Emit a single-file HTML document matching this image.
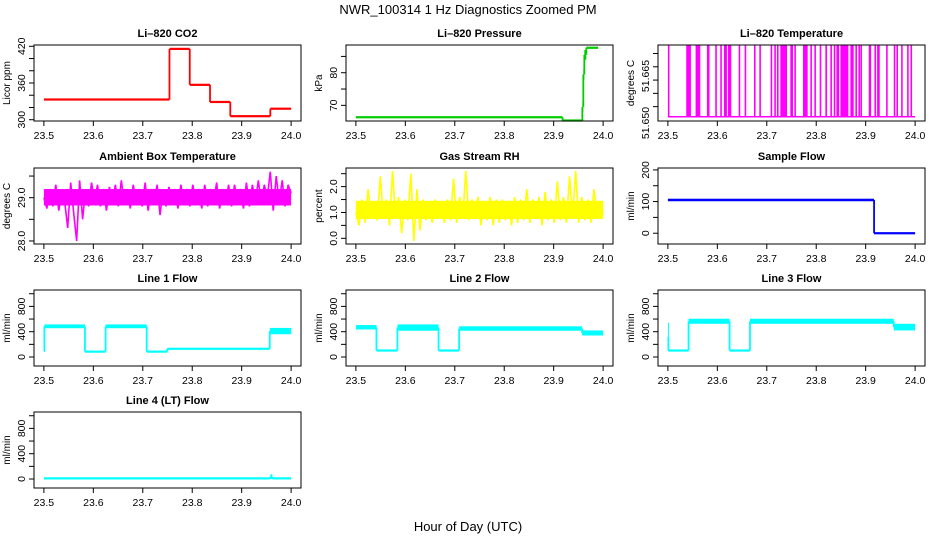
<!DOCTYPE html>
<html><head><meta charset="utf-8"><style>
html,body{margin:0;padding:0;background:#fff}
svg{display:block;font-family:"Liberation Sans",Arial,sans-serif}
</style></head><body>
<svg id="chart" width="936" height="540" viewBox="0 0 936 540" xmlns="http://www.w3.org/2000/svg">
<text x="468" y="14" text-anchor="middle" font-size="13">NWR_100314  1 Hz Diagnostics Zoomed PM</text>
<text x="468" y="531" text-anchor="middle" font-size="13">Hour of Day (UTC)</text>
</svg>
<script>
// ---- data ----
const xTicks = [23.5, 23.6, 23.7, 23.8, 23.9, 24.0];
const xTickLabels = ["23.5","23.6","23.7","23.8","23.9","24.0"];
const co2Times = [23.5, 23.754, 23.795, 23.836, 23.877, 23.958, 24.0];
const co2Low = [331.5, 414, 355.5, 327.5, 304, 316.5];
const co2High = [334.5, 417.5, 358.5, 330.5, 307.5, 319.5];
const pressTimes = [23.5, 23.918, 23.958, 23.96, 23.962, 23.966, 23.99];
const pressLow = [66.1, 65.2, 68, 78, 84, 87.4];
const pressHigh = [66.6, 65.5, 71, 81, 87, 87.9];
const tempHighStart = [23.5,23.5371,23.556,23.579,23.5958,23.6059,23.6134,23.6215,23.6431,23.6552,23.6741,23.6849,23.7078,23.7152,23.7206,23.7274,23.7476,23.7557,23.7733,23.7881,23.7962,23.807,23.8185,23.8286,23.8354,23.8408,23.8489,23.8691,23.8792,23.8853,23.8893,23.9062,23.9177,23.9231,23.9413,23.9568,23.9622,23.9717,23.9838,23.9906];
const tempHighEnd = [23.5027,23.5466,23.5655,23.5843,23.5975,23.6073,23.6194,23.6282,23.6444,23.6579,23.6768,23.6862,23.7092,23.7166,23.722,23.7409,23.753,23.7571,23.7827,23.7895,23.7976,23.8084,23.8219,23.83,23.8367,23.8462,23.865,23.8758,23.8812,23.8866,23.8907,23.911,23.9191,23.9285,23.9426,23.9582,23.9636,23.973,23.9852,23.9919];
const tempLowValue = 51.6462;
const tempHighValue = 51.673;
const ambientBand = [28.82, 29.2];
const ambientValues = [29.0,28.75,29.2,28.8,29.3,28.7,29.1,28.9,28.3,29.35,28.65,28.0,29.4,28.5,29.2,28.8,29.35,28.9,29.3,28.8,29.2,28.7,29.25,28.9,29.3,28.8,29.4,28.85,29.2,28.75,29.3,28.9,29.2,28.8,29.35,28.7,29.2,28.85,29.3,28.6,29.2,28.8,29.25,28.9,29.2,28.75,29.3,28.85,29.2,28.8,29.3,28.9,29.2,28.75,29.3,28.8,29.2,28.9,29.35,28.75,29.2,28.85,29.3,28.8,29.3,28.9,29.2,28.75,29.35,28.8,29.3,28.9,29.4,28.85,29.3,29.0,29.6,28.7,29.5,28.9,29.4,28.8,29.3,29.1];
const rhBand = [0.75, 1.45];
const rhValues = [1.0,0.5,1.5,0.6,1.9,0.8,1.4,0.7,2.4,0.9,1.5,0.5,2.6,0.8,1.6,0.2,1.5,0.7,2.5,-0.1,1.9,0.3,1.5,0.7,1.4,0.6,1.5,0.8,1.4,0.6,1.5,0.7,2.3,0.6,1.6,0.8,2.6,0.7,1.5,0.8,1.6,0.5,1.4,0.7,1.6,0.5,1.5,0.6,1.5,0.7,1.4,0.5,1.6,0.6,1.5,0.7,1.9,0.6,1.5,0.8,1.6,0.5,1.8,0.7,1.5,0.6,2.2,0.7,1.6,0.6,2.4,0.8,2.6,0.6,1.6,0.7,1.5,0.6,1.9,0.8,1.4,1.0];
const sampleTimes = [23.5, 23.917, 24.0];
const sampleLow = [101, -2];
const sampleHigh = [109, 2];
const line1Times = [23.5, 23.501, 23.583, 23.6248, 23.708, 23.7496, 23.9568, 24.0];
const line1Low = [85, 455, 75, 455, 75, 120, 360];
const line1High = [105, 515, 95, 515, 95, 140, 460];
const line2Times = [23.5, 23.5416, 23.584, 23.6672, 23.7088, 23.9576, 24.0];
const line2Low = [435, 90, 415, 90, 415, 340];
const line2High = [505, 115, 515, 115, 485, 420];
const line3Times = [23.5, 23.501, 23.5418, 23.6248, 23.666, 23.9568, 24.0];
const line3Low = [95, 95, 525, 95, 525, 420];
const line3High = [545, 110, 605, 110, 605, 525];
const line4Times = [23.5, 23.958, 23.962, 24.0];
const line4Low = [0, 0, 0];
const line4High = [20, 75, 20];

const NS = "http://www.w3.org/2000/svg";
const svg = document.getElementById("chart");
function mk(tag, attrs, parent){
  const e = document.createElementNS(NS, tag);
  for (const k in attrs) e.setAttribute(k, attrs[k]);
  (parent||svg).appendChild(e);
  return e;
}
const colLeft = [34, 346, 658];
const rowTop = [45, 168, 290, 412];
const W = 267, H = 76;

function panel(name, title, col, row, ylim, yTicks, yLabels, ylab){
  const L = colLeft[col], T = rowTop[row];
  const g = mk("g", {});
  
  
  const xs = v => L + (v - 23.48) / 0.54 * W;
  const ys = v => T + (ylim[1] - v) / (ylim[1] - ylim[0]) * H;
  const t = mk("text", {x: L + W/2, y: T - 8, "text-anchor": "middle", "font-size": "11", "font-weight": "bold"}, g);
  t.textContent = title;
  
  
  xTicks.forEach((v, i) => {
    mk("line", {x1: xs(v), x2: xs(v), y1: T + H, y2: T + H + 5, stroke: "#000"}, g);
    const tl = mk("text", {x: xs(v), y: T + H + 18, "text-anchor": "middle", "font-size": "10.5"}, g);
    tl.textContent = xTickLabels[i];
    
    
  });
  yTicks.forEach(v => mk("line", {x1: L - 5, x2: L, y1: ys(v), y2: ys(v), stroke: "#000"}, g));
  yLabels.forEach(lb => {
    const yy = lb[2] !== undefined ? lb[2] : ys(lb[0]);
    const tl = mk("text", {x: L - 9, y: yy, "text-anchor": "middle", "font-size": "10.5", transform: `rotate(-90 ${L-9} ${yy})`}, g);
    tl.textContent = lb[1];
    
    
  });
  const yt = mk("text", {x: L - 24, y: T + H/2, "text-anchor": "middle", "font-size": "10", transform: `rotate(-90 ${L-24} ${T+H/2})`}, g);
  yt.textContent = ylab;
  
  
  const clip = mk("g", {}, g);
  mk("rect", {x: L, y: T, width: W, height: H, fill: "none", stroke: "#000", "stroke-width": 1}, g);
  return {g: clip, xs, ys};
}

function stepSeries(p, name, times, lows, highs, color){
  for (let i = 0; i < lows.length; i++){
    const x1 = p.xs(times[i]), x2 = p.xs(times[i+1]);
    let y1 = p.ys(highs[i]), y2 = p.ys(lows[i]);
    if (y2 - y1 < 2.2){ const m = (y1 + y2) / 2; y1 = m - 1.1; y2 = m + 1.1; }
    const r = mk("rect", {x: x1, y: y1, width: Math.max(x2 - x1, 1), height: y2 - y1, fill: color}, p.g);
    
    
    if (i > 0){
      const a = p.ys((lows[i-1] + highs[i-1]) / 2), b = p.ys((lows[i] + highs[i]) / 2);
      mk("line", {x1: x1, x2: x1, y1: a, y2: b, stroke: color, "stroke-width": 1.8}, p.g);
    }
  }
}
function noisySeries(p, name, band, values, color){
  const b = mk("rect", {x: p.xs(23.5), y: p.ys(band[1]), width: p.xs(24.0) - p.xs(23.5), height: p.ys(band[0]) - p.ys(band[1]), fill: color}, p.g);
  
  
  const n = values.length;
  const pts = values.map((v, i) => p.xs(23.5 + i * 0.5 / (n - 1)) + "," + p.ys(v)).join(" ");
  const pl = mk("polyline", {points: pts, fill: "none", stroke: color, "stroke-width": 1.6}, p.g);
  
  
}

let p = panel("co2", "Li\u2013820 CO2", 0, 0, [297.9, 422.1], [300,320,340,360,380,400,420], [[300,"300"],[360,"360"],[420,"420"]], "Licor ppm");
stepSeries(p, "co2", co2Times, co2Low, co2High, "#ff0000");
p = panel("pressure", "Li\u2013820 Pressure", 1, 0, [65.2, 88.5], [70,75,80,85], [[70,"70"],[80,"80"]], "kPa");
stepSeries(p, "pressure", pressTimes, pressLow, pressHigh, "#00cc00");
p = panel("li820-temp", "Li\u2013820 Temperature", 2, 0, [51.6446, 51.6732], [51.650,51.655,51.660,51.665,51.670], [[51.650,"51.650",123],[51.665,"51.665",76]], "degrees C");
{
  const yl = p.ys(tempLowValue), yh = p.ys(tempHighValue);
  mk("line", {x1: p.xs(23.5), x2: p.xs(24.0), y1: yl, y2: yl, stroke: "#ff00ff", "stroke-width": 1.5}, p.g);
  tempHighStart.forEach((s, i) => {
    const r = mk("rect", {x: p.xs(s), y: yh, width: Math.max(p.xs(tempHighEnd[i]) - p.xs(s), 1.6), height: yl - yh, fill: "#ff00ff"}, p.g);
    
    
  });
}
p = panel("ambient-temp", "Ambient Box Temperature", 0, 1, [27.93, 29.686], [28.0,28.5,29.0,29.5], [[28.0,"28.0"],[29.0,"29.0"]], "degrees C");
noisySeries(p, "ambient-temp", ambientBand, ambientValues, "#ff00ff");
p = panel("gas-rh", "Gas Stream RH", 1, 1, [-0.22, 2.72], [0,0.5,1,1.5,2,2.5], [[0,"0.0"],[1,"1.0"],[2,"2.0"]], "percent");
noisySeries(p, "gas-rh", rhBand, rhValues, "#ffff00");
p = panel("sample-flow", "Sample Flow", 2, 1, [-34, 206], [0,50,100,150,200], [[0,"0"],[100,"100"],[200,"200"]], "ml/min");
stepSeries(p, "sample-flow", sampleTimes, sampleLow, sampleHigh, "#0000ff");
const flowTicks = [0,200,400,600,800,1000];
const flowLabels = [[0,"0"],[400,"400"],[800,"800"]];
p = panel("line1", "Line 1 Flow", 0, 2, [-142, 1059], flowTicks, flowLabels, "ml/min");
stepSeries(p, "line1", line1Times, line1Low, line1High, "#00ffff");
p = panel("line2", "Line 2 Flow", 1, 2, [-142, 1059], flowTicks, flowLabels, "ml/min");
stepSeries(p, "line2", line2Times, line2Low, line2High, "#00ffff");
p = panel("line3", "Line 3 Flow", 2, 2, [-142, 1059], flowTicks, flowLabels, "ml/min");
stepSeries(p, "line3", line3Times, line3Low, line3High, "#00ffff");
p = panel("line4", "Line 4 (LT) Flow", 0, 3, [-142, 1059], flowTicks, flowLabels, "ml/min");
stepSeries(p, "line4", line4Times, line4Low, line4High, "#00ffff");
</script>
</body></html>
